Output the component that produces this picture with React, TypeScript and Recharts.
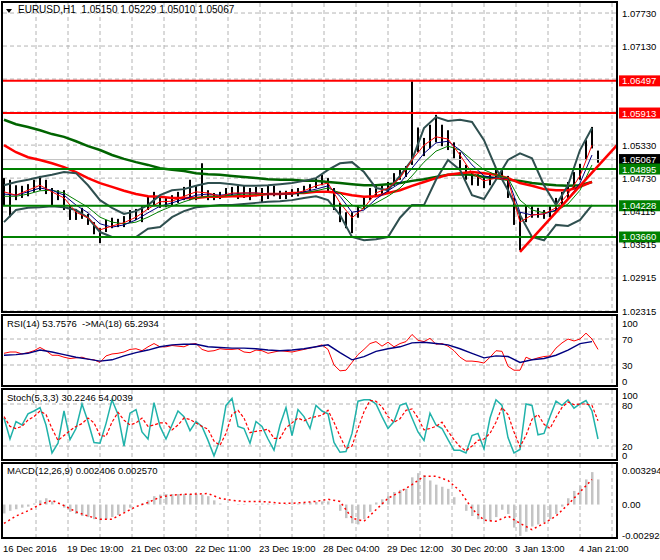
import React from "react";
import {
  ComposedChart,
  Line,
  Bar,
  XAxis,
  YAxis,
  CartesianGrid,
  ReferenceLine,
} from "recharts";

const FONT = "'Liberation Sans', Arial, sans-serif";

// EURUSD H1, one bar every 3 hours (16 Dec 2016 -> 4 Jan 2017)
const barHigh = [
  1.0473, 1.047, 1.046, 1.0459, 1.0462, 1.047, 1.0477, 1.047, 1.0455, 1.0451,
  1.0451, 1.0424, 1.0417, 1.0419, 1.0408, 1.0393, 1.0382, 1.0397, 1.0401, 1.0399,
  1.0404, 1.0415, 1.0417, 1.0422, 1.044, 1.0448, 1.044, 1.0437, 1.0442, 1.0448,
  1.0457, 1.047, 1.046, 1.05, 1.0451, 1.0446, 1.0448, 1.0455, 1.0457, 1.0459,
  1.046, 1.0455, 1.0457, 1.0455, 1.046, 1.0459, 1.045, 1.045, 1.0453, 1.0455,
  1.0459, 1.0462, 1.0473, 1.0479, 1.0473, 1.0455, 1.0428, 1.0411, 1.0411, 1.0424,
  1.0439, 1.0455, 1.0462, 1.0462, 1.0466, 1.0482, 1.0489, 1.0495, 1.0649, 1.0565,
  1.0546, 1.057, 1.0588, 1.057, 1.056, 1.0538, 1.052, 1.0497, 1.0484, 1.048,
  1.0477, 1.0482, 1.0488, 1.0489, 1.0477, 1.0437, 1.0411, 1.0424, 1.0422, 1.0419,
  1.0415, 1.0422, 1.0437, 1.0448, 1.0466, 1.0484, 1.0499, 1.0542, 1.0566, 1.0523,
];
const barLow = [
  1.0424, 1.0402, 1.0433, 1.0437, 1.044, 1.0448, 1.0451, 1.0444, 1.0424, 1.0433,
  1.0415, 1.0397, 1.0397, 1.0399, 1.0388, 1.0371, 1.0355, 1.0375, 1.0382, 1.0384,
  1.0384, 1.0393, 1.0397, 1.0393, 1.0415, 1.0422, 1.0419, 1.042, 1.0424, 1.0428,
  1.0433, 1.0433, 1.0433, 1.0437, 1.0433, 1.0433, 1.0435, 1.0439, 1.0439, 1.0435,
  1.0437, 1.0433, 1.044, 1.0428, 1.0435, 1.044, 1.0435, 1.0435, 1.0439, 1.044,
  1.0446, 1.045, 1.0455, 1.046, 1.0448, 1.0415, 1.0393, 1.0382, 1.0373, 1.0401,
  1.0417, 1.0433, 1.044, 1.0442, 1.0446, 1.0459, 1.047, 1.0475, 1.0497, 1.052,
  1.0513, 1.0527, 1.0538, 1.0531, 1.0524, 1.0509, 1.0491, 1.047, 1.046, 1.0459,
  1.0455, 1.046, 1.047, 1.0475, 1.0437, 1.0388, 1.0342, 1.0393, 1.0401, 1.0401,
  1.0399, 1.0402, 1.0411, 1.0424, 1.0437, 1.0455, 1.047, 1.0506, 1.0527, 1.0501,
];

// moving averages and bands, one value every 6 hours
const maSlowGreen = [
  1.0579, 1.0571, 1.0566, 1.056, 1.0553, 1.0548, 1.054, 1.0531, 1.0524, 1.0515,
  1.0508, 1.0502, 1.0497, 1.0491, 1.0488, 1.0486, 1.0482, 1.048, 1.0479, 1.0477,
  1.0475, 1.0473, 1.0471, 1.047, 1.047, 1.0468, 1.0468, 1.0466, 1.0464, 1.0462,
  1.046, 1.046, 1.0462, 1.0464, 1.0468, 1.0471, 1.0475, 1.0479, 1.048, 1.0479,
  1.0475, 1.0473, 1.047, 1.0468, 1.0464, 1.0462, 1.046, 1.0459, 1.046, 1.0466,
];
const maSlowRed = [
  1.0533, 1.052, 1.0511, 1.0506, 1.05, 1.0493, 1.0484, 1.0473, 1.0464, 1.0457,
  1.045, 1.0444, 1.044, 1.0439, 1.0437, 1.0437, 1.0437, 1.0439, 1.0439, 1.044,
  1.044, 1.0442, 1.0444, 1.0444, 1.0446, 1.0446, 1.0448, 1.0448, 1.0446, 1.0442,
  1.0439, 1.044, 1.0446, 1.0451, 1.0459, 1.0466, 1.0473, 1.0479, 1.0482, 1.0484,
  1.0482, 1.0479, 1.0473, 1.0464, 1.0459, 1.0453, 1.0451, 1.0451, 1.0457, 1.0466,
];
const maFastRed = [
  1.0448, 1.0442, 1.0451, 1.046, 1.0448, 1.0437, 1.0411, 1.0401, 1.0379, 1.0386,
  1.0392, 1.0402, 1.0417, 1.043, 1.0431, 1.044, 1.0448, 1.0446, 1.044, 1.0446,
  1.0446, 1.0446, 1.0444, 1.0444, 1.0444, 1.045, 1.0459, 1.0464, 1.0428, 1.0401,
  1.0419, 1.0446, 1.0455, 1.0473, 1.0506, 1.0533, 1.0548, 1.0544, 1.0515, 1.0482,
  1.0468, 1.0473, 1.047, 1.0393, 1.0406, 1.0408, 1.0419, 1.0444, 1.0477, 1.0533,
];
const maFastNavy = [
  1.0444, 1.0442, 1.0448, 1.0455, 1.0451, 1.0442, 1.0424, 1.041, 1.039, 1.0384,
  1.0388, 1.0397, 1.041, 1.0422, 1.0428, 1.0435, 1.0442, 1.0444, 1.0442, 1.0444,
  1.0446, 1.0446, 1.0444, 1.0444, 1.0444, 1.0448, 1.0453, 1.0459, 1.044, 1.0411,
  1.0415, 1.0435, 1.045, 1.0464, 1.0491, 1.0518, 1.0537, 1.054, 1.0524, 1.0497,
  1.0477, 1.0473, 1.0471, 1.0411, 1.0406, 1.0408, 1.0415, 1.0435, 1.0464, 1.0515,
];
const maFastGreen = [
  1.044, 1.044, 1.0444, 1.045, 1.0451, 1.0446, 1.0433, 1.042, 1.0402, 1.0393,
  1.039, 1.0393, 1.0402, 1.0413, 1.0422, 1.043, 1.0437, 1.044, 1.044, 1.0442,
  1.0444, 1.0444, 1.0444, 1.0444, 1.0444, 1.0446, 1.045, 1.0455, 1.0446, 1.0424,
  1.0417, 1.0428, 1.044, 1.0455, 1.0477, 1.0502, 1.0522, 1.0531, 1.0524, 1.0506,
  1.0488, 1.0479, 1.0473, 1.0433, 1.0415, 1.041, 1.0413, 1.0426, 1.0451, 1.0497,
];
const bandA = [
  1.046, 1.0466, 1.047, 1.0475, 1.0479, 1.0484, 1.0482, 1.046, 1.0433, 1.0419,
  1.0408, 1.0413, 1.0424, 1.0442, 1.0451, 1.0453, 1.0459, 1.0464, 1.0464, 1.0462,
  1.0459, 1.0459, 1.046, 1.0462, 1.0464, 1.0468, 1.0473, 1.0488, 1.05, 1.0502,
  1.0484, 1.0455, 1.0451, 1.0477, 1.0506, 1.0564, 1.0584, 1.0577, 1.0579, 1.0575,
  1.0542, 1.0491, 1.0451, 1.0406, 1.0366, 1.036, 1.0388, 1.0386, 1.0397, 1.0424,
];
const bandB = [
  1.0393, 1.0415, 1.0419, 1.042, 1.0422, 1.042, 1.0415, 1.0401, 1.0375, 1.0366,
  1.0366, 1.0366, 1.0381, 1.0384, 1.0402, 1.0413, 1.042, 1.0422, 1.0424, 1.0424,
  1.0426, 1.0428, 1.043, 1.0431, 1.0433, 1.0437, 1.044, 1.0433, 1.0406, 1.0366,
  1.036, 1.0362, 1.0366, 1.0401, 1.0424, 1.0424, 1.047, 1.0506, 1.0488, 1.0442,
  1.0435, 1.047, 1.0506, 1.0518, 1.0509, 1.046, 1.0424, 1.046, 1.0524, 1.0564,
];

const resistanceLevels = [1.06497, 1.05913];
const supportLevels = [1.04895, 1.04228, 1.0366];
const lastPrice = 1.05067;
const titleOhlc = [1.0515, 1.05229, 1.0501, 1.05067];
const trendHours = [258, 306.5];
const trendPrices = [1.0339, 1.0533];
const priceTicks = [1.0773, 1.0713, 1.0533, 1.0473, 1.04115, 1.03515, 1.02915, 1.02315];
const priceGrid = [1.0773, 1.0713, 1.0653, 1.0593, 1.0533, 1.0473, 1.04115, 1.03515, 1.02915, 1.02315];

// RSI(14) every 3 hours, its MA(18) every 6 hours
const rsi = [
  48, 50, 50, 47, 49, 52, 57, 52, 45, 45, 42, 40, 41, 42, 39, 38, 34, 44, 47, 48,
  50, 54, 55, 52, 58, 63, 58, 58, 60, 59, 58, 62, 63, 54, 51, 52, 55, 54, 54, 55,
  50, 49, 53, 52, 48, 50, 52, 51, 50, 52, 54, 56, 58, 61, 54, 30, 21, 22, 34, 46,
  54, 63, 66, 59, 65, 58, 63, 66, 77, 68, 66, 71, 62, 63, 59, 52, 42, 36, 36, 35,
  33, 42, 52, 51, 28, 22, 22, 42, 38, 41, 43, 44, 56, 64, 70, 67, 70, 79, 70, 54,
];
const rsiMa = [
  45, 46, 48, 53, 50, 46, 42, 39, 36, 38, 44, 49, 53, 58, 61, 62, 62, 58, 57, 56,
  56, 55, 53, 52, 53, 55, 58, 61, 49, 38, 43, 51, 55, 58, 64, 65, 63, 61, 55, 48,
  41, 44, 43, 34, 38, 40, 45, 53, 63, 66,
];

// Stochastic(5,3,3) every 3 hours
const stochK = [
  60, 30, 55, 50, 66, 70, 75, 50, 10, 24, 70, 29, 45, 80, 55, 25, 24, 52, 86, 65,
  20, 67, 72, 40, 30, 82, 48, 30, 50, 70, 62, 42, 55, 48, 28, 6, 29, 78, 88, 48,
  45, 24, 55, 48, 30, 14, 50, 75, 35, 72, 62, 45, 78, 70, 66, 25, 11, 12, 38, 84,
  86, 86, 80, 62, 45, 55, 78, 81, 60, 40, 28, 67, 50, 45, 29, 14, 14, 10, 35, 38,
  16, 60, 86, 78, 32, 10, 15, 80, 78, 36, 38, 62, 84, 78, 86, 74, 80, 85, 70, 30,
];
const stochD = [
  62, 48, 45, 48, 57, 62, 70, 65, 45, 28, 35, 42, 48, 52, 60, 53, 35, 34, 54, 68,
  57, 50, 53, 60, 48, 50, 53, 53, 43, 50, 60, 58, 53, 48, 44, 27, 21, 38, 65, 71,
  60, 39, 41, 42, 44, 31, 31, 46, 53, 60, 56, 60, 62, 64, 71, 54, 34, 16, 20, 45,
  69, 85, 84, 76, 62, 54, 59, 71, 73, 60, 43, 45, 48, 54, 41, 29, 19, 13, 20, 28,
  30, 38, 54, 75, 65, 40, 19, 35, 58, 65, 51, 45, 61, 75, 83, 79, 80, 80, 78, 56,
];

// MACD(12,26,9): histogram every 3 hours, signal every 6 hours
const macdHist = [
  -0.00085, -0.0006, -0.00045, -0.0003, -0.0002, 0.0001, 0.0004, 0.0006, 0.0003, 0,
  -0.0003, -0.0007, -0.0009, -0.0011, -0.0012, -0.0014, -0.0015, -0.0014, -0.0012, -0.001,
  -0.0007, -0.0003, 0, 0.0001, 0.0004, 0.0008, 0.00095, 0.001, 0.001, 0.001,
  0.001, 0.001, 0.001, 0.00095, 0.0008, 0.0004, 0.0001, 0, 0, 0.00005,
  0.00005, 0, 0.00005, 0.0001, 0.0001, 0.00005, 0, 0.00005, 0.0001, 0.0001,
  0.00015, 0.0002, 0.00025, 0.0003, 0.0003, 0, -0.0006, -0.0013, -0.0018, -0.0019,
  -0.0014, -0.0007, 0.0002, 0.0005, 0.0008, 0.0012, 0.0014, 0.0015, 0.0026, 0.003,
  0.0028, 0.0023, 0.0019, 0.0017, 0.0015, 0.0007, 0, -0.0006, -0.0011, -0.0014,
  -0.0015, -0.0016, -0.0012, -0.0005, -0.0009, -0.0022, -0.003, -0.0026, -0.0021, -0.0019,
  -0.0017, -0.0014, -0.0009, -0.0002, 0.0006, 0.0013, 0.0018, 0.0024, 0.0031, 0.0024,
];
const macdSignal = [
  -0.0018, -0.0011, -0.0006, 0, 0.0004, -0.0001, -0.0007, -0.0011, -0.0014, -0.0014,
  -0.0008, -0.0002, 0.0002, 0.0007, 0.0009, 0.00097, 0.001, 0.00105, 0.0006, 0.0004,
  0.0003, 0.0003, 0.00025, 0.00012, 0.00012, 0.0002, 0.0003, 0.0005, 0.0003, -0.0013,
  -0.0016, -0.0005, 0.0006, 0.0012, 0.0019, 0.0027, 0.0027, 0.0023, 0.0013, -0.0004,
  -0.0015, -0.0016, -0.0011, -0.0018, -0.0024, -0.0018, -0.0011, 0, 0.0012, 0.0024,
];

const gridHours = [16, 32, 48, 64, 80, 96, 112, 128, 144, 160, 176, 192, 208, 224, 240, 256, 272, 288, 304];
const timeLabelHours = [0, 32, 64, 96, 128, 160, 192, 224, 256, 288];
const timeLabels = [
  "16 Dec 2016", "19 Dec 19:00", "21 Dec 03:00", "22 Dec 11:00", "23 Dec 19:00",
  "28 Dec 04:00", "29 Dec 12:00", "30 Dec 20:00", "3 Jan 13:00", "4 Jan 21:00",
];

const X_DOMAIN: [number, number] = [-0.5, 306.5];
const half = (arr: number[], i: number) => (i % 2 === 0 ? arr[i / 2] : null);

const priceRows = barHigh.map((high, i) => ({
  h: i * 3,
  range: [barLow[i], high],
  slowGreen: half(maSlowGreen, i),
  slowRed: half(maSlowRed, i),
  fastRed: half(maFastRed, i),
  fastNavy: half(maFastNavy, i),
  fastGreen: half(maFastGreen, i),
  bandA: half(bandA, i),
  bandB: half(bandB, i),
}));
const rsiRows = rsi.map((v, i) => ({ h: i * 3, rsi: v, ma: half(rsiMa, i) }));
const stochRows = stochK.map((v, i) => ({ h: i * 3, k: v, d: stochD[i] }));
const macdRows = macdHist.map((v, i) => ({ h: i * 3, hist: v, signal: half(macdSignal, i) }));

const GRID = "#b4b4b4";

function axisTick(fmt: (v: number) => string, shift: (v: number) => number = () => 0) {
  return (props: any) => (
    <text
      x={622}
      y={props.y + 3.5 + shift(props.payload.value)}
      fontSize={9.5}
      fontFamily={FONT}
      fill="#000"
    >
      {fmt(props.payload.value)}
    </text>
  );
}

function priceTag(text: string, bg: string) {
  return (props: any) => {
    const vb = props.viewBox || {};
    const x = (vb.x ?? 3) + (vb.width ?? 614) + 2;
    const y = vb.y ?? 0;
    return (
      <g>
        <rect x={x} y={y - 5.5} width={44} height={11} fill={bg} />
        <text x={x + 3} y={y + 3.5} fontSize={9.5} fontFamily={FONT} fill="#fff">
          {text}
        </text>
      </g>
    );
  };
}

const OhlcBar = (props: any) => {
  const { x, y, width, height } = props;
  if (x == null || y == null) return null;
  const top = height < 0 ? y + height : y;
  return <rect x={x + width / 2 - 1} y={top} width={2} height={Math.max(Math.abs(height), 1)} fill="#000" />;
};

const TimeTick = (props: any) => {
  const idx = timeLabelHours.indexOf(props.payload.value);
  return (
    <text x={props.x - 1} y={props.y + 5} fontSize={9.5} fontFamily={FONT} fill="#000">
      {idx >= 0 ? timeLabels[idx] : ""}
    </text>
  );
};

const frame = (top: number, height: number): React.CSSProperties => ({
  position: "absolute",
  left: 1,
  top,
  width: 617,
  height,
  border: "2px solid #000",
  boxSizing: "border-box",
  pointerEvents: "none",
});

const caption = (left: number, top: number, size = 9.5): React.CSSProperties => ({
  position: "absolute",
  left,
  top,
  fontSize: size,
  lineHeight: "11px",
  fontFamily: FONT,
  color: "#000",
  whiteSpace: "pre",
});

export default function App() {
  const f5 = (v: number) => v.toFixed(5);
  return (
    <div style={{ position: "absolute", left: 0, top: 0, width: 660, height: 560, background: "#fff", overflow: "hidden" }}>
      {/* price window */}
      <div style={{ position: "absolute", left: 0, top: 0 }}>
        <ComposedChart width={660} height={315} data={priceRows} margin={{ top: 3, right: 0, bottom: 2, left: 3 }}>
          <CartesianGrid stroke={GRID} strokeDasharray="4 3" verticalValues={gridHours} horizontalValues={priceGrid} />
          <XAxis dataKey="h" type="number" domain={X_DOMAIN} ticks={gridHours} hide allowDataOverflow />
          <YAxis
            orientation="right"
            width={43}
            type="number"
            domain={[1.02279, 1.07912]}
            allowDataOverflow
            ticks={priceTicks}
            tick={axisTick(f5)}
            axisLine={false}
            tickLine={false}
            interval={0}
          />
          <ReferenceLine y={lastPrice} stroke="#c0c0c0" strokeWidth={1} label={priceTag(f5(lastPrice), "#000")} />
          <Line dataKey="slowGreen" stroke="#006400" strokeWidth={2.5} dot={false} activeDot={false} connectNulls isAnimationActive={false} />
          <Line dataKey="slowRed" stroke="#ff0000" strokeWidth={2.5} dot={false} activeDot={false} connectNulls isAnimationActive={false} />
          <Line dataKey="bandA" stroke="#2f4f4f" strokeWidth={2} dot={false} activeDot={false} connectNulls isAnimationActive={false} />
          <Line dataKey="bandB" stroke="#2f4f4f" strokeWidth={2} dot={false} activeDot={false} connectNulls isAnimationActive={false} />
          <Bar dataKey="range" barSize={2} shape={OhlcBar} isAnimationActive={false} />
          <Line dataKey="fastGreen" stroke="#008000" strokeWidth={1} dot={false} activeDot={false} connectNulls isAnimationActive={false} />
          <Line dataKey="fastNavy" stroke="#000080" strokeWidth={1} dot={false} activeDot={false} connectNulls isAnimationActive={false} />
          <Line dataKey="fastRed" stroke="#ff0000" strokeWidth={1} dot={false} activeDot={false} connectNulls isAnimationActive={false} />
          {resistanceLevels.map((lv) => (
            <ReferenceLine key={lv} y={lv} stroke="#ff0000" strokeWidth={2} label={priceTag(f5(lv), "#ff0000")} />
          ))}
          {supportLevels.map((lv) => (
            <ReferenceLine key={lv} y={lv} stroke="#008000" strokeWidth={2} label={priceTag(f5(lv), "#008000")} />
          ))}
          <ReferenceLine
            segment={[
              { x: trendHours[0], y: trendPrices[0] },
              { x: trendHours[1], y: trendPrices[1] },
            ]}
            stroke="#ff0000"
            strokeWidth={2.5}
            ifOverflow="visible"
          />
        </ComposedChart>
      </div>

      {/* RSI window */}
      <div style={{ position: "absolute", left: 0, top: 313 }}>
        <ComposedChart width={660} height={75} data={rsiRows} margin={{ top: 3, right: 0, bottom: 2, left: 3 }}>
          <CartesianGrid stroke={GRID} strokeDasharray="4 3" verticalValues={gridHours} horizontalValues={[70, 30]} />
          <XAxis dataKey="h" type="number" domain={X_DOMAIN} ticks={gridHours} hide allowDataOverflow />
          <YAxis
            orientation="right"
            width={43}
            type="number"
            domain={[-2.3, 105.4]}
            allowDataOverflow
            ticks={[100, 70, 30, 0]}
            interval={0}
            tick={axisTick((v) => String(v), (v) => (v === 100 ? 3.5 : v === 0 ? -3.5 : 0))}
            axisLine={false}
            tickLine={false}
          />
          <Line dataKey="rsi" stroke="#ff0000" strokeWidth={1} dot={false} activeDot={false} isAnimationActive={false} />
          <Line dataKey="ma" stroke="#000080" strokeWidth={1.4} dot={false} activeDot={false} connectNulls isAnimationActive={false} />
        </ComposedChart>
      </div>

      {/* Stochastic window */}
      <div style={{ position: "absolute", left: 0, top: 387 }}>
        <ComposedChart width={660} height={75} data={stochRows} margin={{ top: 3, right: 0, bottom: 2, left: 3 }}>
          <CartesianGrid stroke={GRID} strokeDasharray="4 3" verticalValues={gridHours} horizontalValues={[80, 20]} />
          <XAxis dataKey="h" type="number" domain={X_DOMAIN} ticks={gridHours} hide allowDataOverflow />
          <YAxis
            orientation="right"
            width={43}
            type="number"
            domain={[0, 100]}
            allowDataOverflow
            ticks={[100, 80, 20, 0]}
            interval={0}
            tick={axisTick((v) => String(v), (v) => (v === 100 ? 5 : v === 80 ? 1 : v === 0 ? -5 : 0))}
            axisLine={false}
            tickLine={false}
          />
          <Line dataKey="k" stroke="#20b2aa" strokeWidth={1.5} dot={false} activeDot={false} isAnimationActive={false} />
          <Line dataKey="d" stroke="#ff0000" strokeWidth={1.2} strokeDasharray="3 2" dot={false} activeDot={false} isAnimationActive={false} />
        </ComposedChart>
      </div>

      {/* MACD window + time axis */}
      <div style={{ position: "absolute", left: 0, top: 461 }}>
        <ComposedChart width={660} height={99} data={macdRows} margin={{ top: 3, right: 0, bottom: 1, left: 3 }}>
          <CartesianGrid stroke={GRID} strokeDasharray="4 3" verticalValues={gridHours} horizontal={false} />
          <XAxis
            dataKey="h"
            type="number"
            domain={X_DOMAIN}
            ticks={timeLabelHours}
            interval={0}
            allowDataOverflow
            height={20}
            axisLine={false}
            tickLine={false}
            tick={TimeTick}
          />
          <YAxis
            orientation="right"
            width={43}
            type="number"
            domain={[-0.003294, 0.003875]}
            allowDataOverflow
            ticks={[0.003294, 0, -0.002928]}
            interval={0}
            tick={axisTick((v) => (v === 0 ? "0.00" : v.toFixed(6)))}
            axisLine={false}
            tickLine={false}
          />
          <Bar dataKey="hist" fill="#c4c4c4" barSize={2.5} isAnimationActive={false} />
          <Line dataKey="signal" stroke="#ff0000" strokeWidth={1.5} strokeDasharray="2 3" dot={false} activeDot={false} connectNulls isAnimationActive={false} />
        </ComposedChart>
      </div>

      <div style={frame(1, 312)} />
      <div style={frame(314, 73)} />
      <div style={frame(388, 73)} />
      <div style={frame(462, 77)} />

      <div
        style={{
          position: "absolute",
          left: 6,
          top: 9,
          width: 0,
          height: 0,
          borderLeft: "3.5px solid transparent",
          borderRight: "3.5px solid transparent",
          borderTop: "4px solid #000",
        }}
      />
      <div style={caption(18, 4, 10)}>{"EURUSD,H1  " + titleOhlc.map(f5).join(" ")}</div>
      <div style={caption(7, 318)}>{"RSI(14) 53.7576  ->MA(18) 65.2934"}</div>
      <div style={caption(7, 392)}>{"Stoch(5,3,3) 30.2246 54.0039"}</div>
      <div style={caption(7, 465)}>{"MACD(12,26,9) 0.002406 0.002570"}</div>
    </div>
  );
}
